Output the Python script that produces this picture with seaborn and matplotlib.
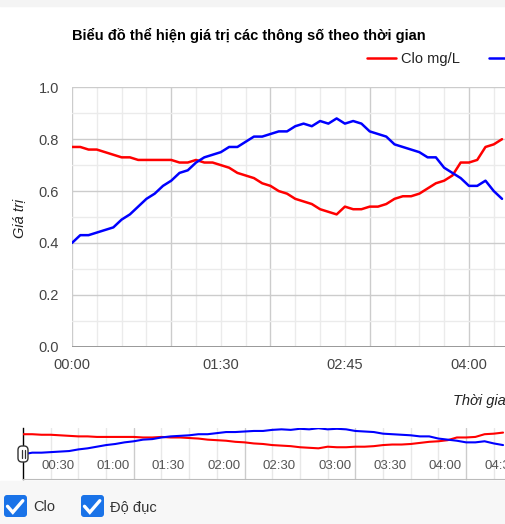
import matplotlib
matplotlib.use("Agg")
import matplotlib.pyplot as plt
import matplotlib.transforms as mtransforms
from matplotlib.patches import Rectangle, FancyBboxPatch
from matplotlib.lines import Line2D
import seaborn as sns
import pandas as pd

# thời gian lấy mẫu (phút tính từ 00:00)
minutes = [0, 5, 10, 15, 20, 25, 30, 35, 40, 45, 50, 55, 60, 65, 70, 75, 80, 85,
           90, 95, 100, 105, 110, 115, 120, 125, 130, 135, 140, 145, 150, 155,
           160, 165, 170, 175, 180, 185, 190, 195, 200, 205, 210, 215, 220, 225,
           230, 235, 240, 245, 250, 255, 260]

clo = [0.77, 0.77, 0.76, 0.76, 0.75, 0.74, 0.73, 0.73, 0.72, 0.72, 0.72, 0.72,
       0.72, 0.71, 0.71, 0.72, 0.71, 0.71, 0.70, 0.69, 0.67, 0.66, 0.65, 0.63,
       0.62, 0.60, 0.59, 0.57, 0.56, 0.55, 0.53, 0.52, 0.51, 0.54, 0.53, 0.53,
       0.54, 0.54, 0.55, 0.57, 0.58, 0.58, 0.59, 0.61, 0.63, 0.64, 0.66, 0.71,
       0.71, 0.72, 0.77, 0.78, 0.80]

do_duc = [0.40, 0.43, 0.43, 0.44, 0.45, 0.46, 0.49, 0.51, 0.54, 0.57, 0.59, 0.62,
          0.64, 0.67, 0.68, 0.71, 0.73, 0.74, 0.75, 0.77, 0.77, 0.79, 0.81, 0.81,
          0.82, 0.83, 0.83, 0.85, 0.86, 0.85, 0.87, 0.86, 0.88, 0.86, 0.87, 0.86,
          0.83, 0.82, 0.81, 0.78, 0.77, 0.76, 0.75, 0.73, 0.73, 0.69, 0.67, 0.65,
          0.62, 0.62, 0.64, 0.60, 0.57]

series_names = ["Clo mg/L", "Độ đục NTU"]
colors = {"Clo mg/L": "#ff0000", "Độ đục NTU": "#0000ff"}

main_xticks = [0, 90, 165, 240]
main_xlabels = ["00:00", "01:30", "02:45", "04:00"]
y_ticks = [0.0, 0.2, 0.4, 0.6, 0.8, 1.0]
filter_ticks = [30, 60, 90, 120, 150, 180, 210, 240, 270]
filter_labels = ["00:30", "01:00", "01:30", "02:00", "02:30", "03:00", "03:30", "04:00", "04:30"]

df = pd.DataFrame({
    "minute": minutes * 2,
    "value": clo + do_duc,
    "series": [series_names[0]] * len(minutes) + [series_names[1]] * len(minutes),
})

W, H = 506, 524


def fx(px):
    return px / W


def fy(py):
    return 1 - py / H


def pix(x, y):
    return (x, H - y)


sns.set_theme(style="white")
plt.rcParams["font.family"] = ["Liberation Sans", "DejaVu Sans"]

fig = plt.figure(figsize=(W / 100, H / 100), dpi=100)
fig.patch.set_facecolor("white")
fig.add_artist(Rectangle((0, fy(6)), 1, 6 / H, transform=fig.transFigure,
                         color="#f4f4f4", zorder=0))
fig.add_artist(Rectangle((0, 0), 1, fy(481), transform=fig.transFigure,
                         color="#f7f7f7", zorder=0))

# ---- biểu đồ chính ----
ax = fig.add_axes([fx(72), fy(346.7), fx(506) - fx(72), 259.4 / H])
sns.lineplot(data=df, x="minute", y="value", hue="series", palette=colors,
             linewidth=1.8, ax=ax, legend=False, zorder=3)
ax.set_xlim(0, 262.4)
ax.set_ylim(0, 1.0)

for t in range(15, 270, 15):
    ax.axvline(t, color="#cccccc" if t % 60 == 0 else "#ebebeb", lw=1, zorder=1)
ax.axvline(0, color="#cccccc", lw=1, zorder=1)
for k in range(1, 11):
    ax.axhline(k / 10, color="#cccccc" if k % 2 == 0 else "#ebebeb", lw=1, zorder=1)
ax.axhline(0, color="#999999", lw=1.4, zorder=2)

for s in ax.spines.values():
    s.set_visible(False)
ax.set_xticks(main_xticks)
ax.set_xticklabels(main_xlabels)
ax.set_yticks(y_ticks)
ax.set_yticklabels([f"{v:.1f}" for v in y_ticks])
ax.tick_params(axis="both", length=0, labelsize=10.5, colors="#444444")
ax.tick_params(axis="y", pad=9.5)
ax.tick_params(axis="x", pad=8)
ax.set_xlabel("")
ax.set_ylabel("")
ax.grid(False)

fig.text(fx(19), fy(218), "Giá trị", rotation=90, style="italic", fontsize=10.5,
         color="#222222", ha="center", va="center")
fig.text(fx(453), fy(401), "Thời gian", style="italic", fontsize=10.5,
         color="#222222", ha="left", va="center")
fig.text(fx(72), fy(40), "Biểu đồ thể hiện giá trị các thông số theo thời gian",
         fontsize=10.5, fontweight="bold", color="#000000", ha="left", va="baseline")

ax.legend(handles=ax.get_lines()[:2], labels=series_names, loc="center left",
          bbox_to_anchor=(fx(367), fy(59)), bbox_transform=fig.transFigure,
          ncol=2, frameon=False, fontsize=10.5, handlelength=2.0,
          handletextpad=0.35, columnspacing=2.0, borderpad=0, borderaxespad=0,
          labelcolor="#222222")

# ---- thanh chọn khoảng thời gian ----
ax2 = fig.add_axes([fx(23), fy(479), fx(506) - fx(23), (479 - 427.7) / H])
sns.lineplot(data=df, x="minute", y="value", hue="series", palette=colors,
             linewidth=1.5, ax=ax2, legend=False, zorder=3)
ax2.set_xlim(0, 261.6)
ax2.set_ylim(-0.055, 0.89)
ax2.set_facecolor("white")
for t in range(15, 270, 15):
    ax2.axvline(t, color="#cccccc" if t % 60 == 0 else "#e8e8e8", lw=1, zorder=1)
for name, s in ax2.spines.items():
    s.set_visible(name in ("left", "bottom"))
ax2.spines["left"].set_color("#000000")
ax2.spines["left"].set_linewidth(1)
ax2.spines["bottom"].set_color("#bbbbbb")
ax2.spines["bottom"].set_linewidth(0.8)
ax2.set_xticks([])
ax2.set_yticks([])
ax2.set_xlabel("")
ax2.set_ylabel("")

blend = mtransforms.blended_transform_factory(ax2.transData, ax2.transAxes)
lab_tr = mtransforms.offset_copy(blend, fig=fig, x=-4, y=0, units="dots")
for t, lab in zip(filter_ticks, filter_labels):
    ax2.text(t, (479 - 466) / 51.3, lab, transform=lab_tr, ha="right", va="center",
             fontsize=9.5, color="#555555", clip_on=False)

ident = mtransforms.IdentityTransform()
fig.add_artist(FancyBboxPatch(pix(18, 462), 10, 16, boxstyle="round,pad=0,rounding_size=4",
                              transform=ident, fc="white", ec="#333333", lw=1, zorder=10))
for xh in (21.5, 24.5):
    fig.add_artist(Line2D([pix(xh, 450)[0]] * 2, [pix(xh, 450)[1], pix(xh, 458)[1]],
                          transform=ident, color="#333333", lw=0.9, zorder=11))

# ---- ô chọn ----
for x0, lab in ((4, "Clo"), (81, "Độ đục")):
    fig.add_artist(FancyBboxPatch(pix(x0, 517), 23, 22,
                                  boxstyle="round,pad=0,rounding_size=3",
                                  transform=ident, fc="#1a73e8", ec="none", zorder=10))
    pts = [pix(x0 + 3.5, 506.3), pix(x0 + 8.8, 512.3), pix(x0 + 18.8, 500.7)]
    fig.add_artist(Line2D([p[0] for p in pts], [p[1] for p in pts], transform=ident,
                          color="white", lw=2.4, solid_capstyle="round",
                          solid_joinstyle="miter", zorder=11))
    fig.text(fx(x0 + 29), fy(507), lab, fontsize=10.5, color="#333333",
             ha="left", va="center")

fig.savefig("out.png", dpi=100)
